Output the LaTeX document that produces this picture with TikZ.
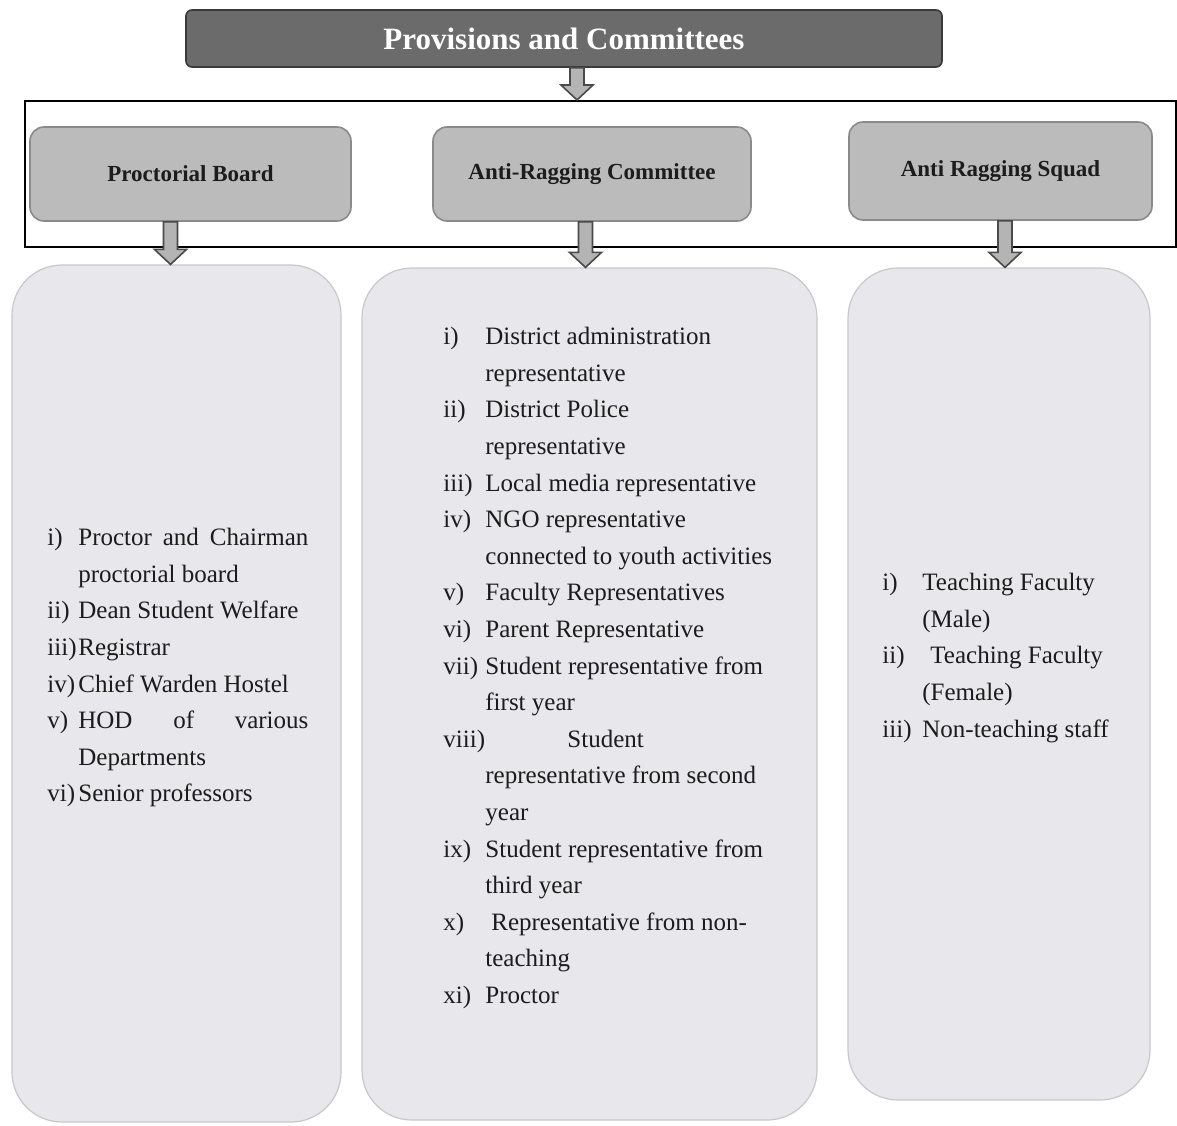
\documentclass[tikz,border=0pt]{standalone}
\usepackage{fontspec}
\setmainfont{Liberation Serif}
\usetikzlibrary{calc}
\definecolor{titlefill}{HTML}{6B6B6B}
\definecolor{titledraw}{HTML}{3A3A3A}
\definecolor{headfill}{HTML}{BBBBBB}
\definecolor{headdraw}{HTML}{8A8A8A}
\definecolor{listfill}{HTML}{E7E7EC}
\definecolor{listdraw}{HTML}{C8C8CC}
\definecolor{arrowfill}{HTML}{B4B4B4}
\definecolor{arrowdraw}{HTML}{4A4A4A}
\definecolor{inktext}{HTML}{1C1C1C}
\newcommand\lbl[2]{\makebox[#1][l]{#2}}
\newcommand\lowered[1]{\raisebox{-1.5pt}{#1}}
\newcommand\blockarrow[2]{%
  \draw[barrow] ($(#1)+(-7,0)$) -- ($(#2)+(-7,-15)$) -- ($(#2)+(-16,-15)$) -- (#2)
    -- ($(#2)+(16,-15)$) -- ($(#2)+(7,-15)$) -- ($(#1)+(7,0)$) -- cycle;}
\begin{document}
\begin{tikzpicture}[x=0.5pt,y=-0.5pt,
  titlebox/.style={draw=titledraw, line width=0.8pt, fill=titlefill, rounded corners=3pt,
    minimum width=378pt, minimum height=28.5pt, inner sep=0pt, text=white,
    font=\fontsize{15.5}{18}\selectfont\bfseries},
  outerframe/.style={draw=black, line width=1pt, minimum width=575.5pt, minimum height=73pt, inner sep=0pt},
  headbox/.style={draw=headdraw, line width=0.8pt, fill=headfill, rounded corners=7pt,
    inner sep=0pt, text=inktext, font=\fontsize{11.5}{14}\selectfont\bfseries},
  listbox/.style={draw=listdraw, line width=0.6pt, fill=listfill, rounded corners=25pt, inner sep=0pt},
  listtext/.style={anchor=north west, inner sep=0pt, align=left, text=inktext,
    font=\fontsize{12.5}{18.3}\selectfont},
  barrow/.style={draw=arrowdraw, line width=0.8pt, fill=arrowfill}]
\useasboundingbox[fill=white] (0,0) rectangle (1177,1125);

\node[titlebox] (title) at (564,38.5) {\raisebox{-0.5pt}{Provisions and Committees}};
\node[outerframe] (frame) at (600.5,174) {};

\node[headbox, minimum width=160.5pt, minimum height=47pt] (pb) at (190.5,174) {\lowered{Proctorial Board}};
\node[headbox, minimum width=159pt, minimum height=47pt] (arc) at (592,174) {\lowered{Anti-Ragging Committee}};
\node[headbox, minimum width=151.5pt, minimum height=49pt] (ars) at (1000.5,171) {\lowered{Anti Ragging Squad}};

\node[listbox, minimum width=164.5pt, minimum height=428.5pt] (pbl) at (176.5,693.5) {};
\node[listbox, minimum width=227.5pt, minimum height=426pt] (arcl) at (589.5,694) {};
\node[listbox, minimum width=151pt, minimum height=416pt] (arsl) at (999,684) {};

% connectors
\coordinate (t0) at ($(frame.north)+(-23.5,0)$);
\coordinate (s0) at (title.south -| t0);
\blockarrow{s0}{t0}
\coordinate (t1) at ($(pbl.north)+(-6,0)$);
\coordinate (s1) at (pb.south -| t1);
\blockarrow{s1}{t1}
\coordinate (t2) at ($(arcl.north)+(-4,0)$);
\coordinate (s2) at (arc.south -| t2);
\blockarrow{s2}{t2}
\coordinate (t3) at ($(arsl.north)+(6,0)$);
\coordinate (s3) at (ars.south -| t3);
\blockarrow{s3}{t3}

% lists
\node[listtext] (pbt) at (47,528) {%
\lbl{15.5pt}{i)}\makebox[115pt][l]{Proctor\hfill and\hfill Chairman}\\
\hspace*{15.5pt}proctorial board\\
\lbl{15.5pt}{ii)}Dean Student Welfare\\
\lbl{15.5pt}{iii)}Registrar\\
\lbl{15.5pt}{iv)}Chief Warden Hostel\\
\lbl{15.5pt}{v)}\makebox[115pt][l]{HOD\hfill of\hfill various}\\
\hspace*{15.5pt}Departments\\
\lbl{15.5pt}{vi)}Senior professors};

\node[listtext] (arct) at (443,327) {%
\lbl{21pt}{i)}District administration\\
\hspace*{21pt}representative\\
\lbl{21pt}{ii)}District Police\\
\hspace*{21pt}representative\\
\lbl{21pt}{iii)}Local media representative\\
\lbl{21pt}{iv)}NGO representative\\
\hspace*{21pt}connected to youth activities\\
\lbl{21pt}{v)}Faculty Representatives\\
\lbl{21pt}{vi)}Parent Representative\\
\lbl{21pt}{vii)}Student representative from\\
\hspace*{21pt}first year\\
\lbl{21pt}{viii)}\hspace*{41pt}Student\\
\hspace*{21pt}representative from second\\
\hspace*{21pt}year\\
\lbl{21pt}{ix)}Student representative from\\
\hspace*{21pt}third year\\
\lbl{21pt}{x)}\hspace*{3pt}Representative from non-\\
\hspace*{21pt}teaching\\
\lbl{21pt}{xi)}Proctor};

\node[listtext] (arst) at (882,573) {%
\lbl{20pt}{i)}Teaching Faculty\\
\hspace*{20pt}(Male)\\
\lbl{20pt}{ii)}\hspace*{4pt}Teaching Faculty\\
\hspace*{20pt}(Female)\\
\lbl{20pt}{iii)}Non-teaching staff};
\end{tikzpicture}
\end{document}
